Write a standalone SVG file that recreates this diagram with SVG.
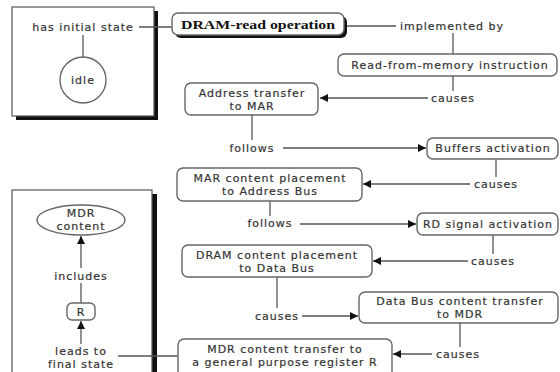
<svg xmlns="http://www.w3.org/2000/svg" width="560" height="372" viewBox="0 0 560 372">
  <defs>
    <marker id="arrow" viewBox="0 0 10 10" refX="10" refY="5" markerWidth="9" markerHeight="8" markerUnits="userSpaceOnUse" orient="auto">
      <path d="M0,0 L10,5 L0,10 Z" fill="#111"/>
    </marker>
    <style>
      text { font-family: "DejaVu Sans", Verdana, sans-serif; font-size: 11px; letter-spacing: 1px; fill: #333; stroke: #333; stroke-width: 0.2px; text-anchor: middle; }
      .title { font-family: "Liberation Serif", "Times New Roman", serif; font-weight: bold; font-size: 13px; letter-spacing: 0; fill: #111; stroke: none; }
      .box { fill: #fff; stroke: #666; stroke-width: 1.4; }
      .frame { fill: #fff; stroke: #555; stroke-width: 1.2; }
      .shadow { fill: #111; }
      .link { fill: none; stroke: #555; stroke-width: 1.3; }
      .arr { fill: none; stroke: #555; stroke-width: 1.3; marker-end: url(#arrow); }
    </style>
  </defs>

  <rect width="560" height="372" fill="#fff"/>

  <!-- framed panels -->
  <g id="frame-initial">
    <rect class="shadow" x="16" y="11" width="142" height="109"/>
    <rect class="frame" x="12" y="7" width="142" height="109"/>
  </g>
  <g id="frame-final">
    <rect class="shadow" x="16" y="194" width="141" height="190"/>
    <rect class="frame" x="12" y="190" width="140" height="190"/>
  </g>

  <!-- connectors -->
  <g id="connectors">
    <line class="link" x1="139" y1="27" x2="172" y2="27"/>
    <line class="link" x1="83" y1="35" x2="83" y2="57"/>
    <line class="link" x1="345" y1="26" x2="396" y2="26"/>
    <line class="link" x1="453" y1="33" x2="453" y2="54"/>
    <line class="link" x1="453" y1="76" x2="453" y2="91"/>
    <line class="arr" x1="428" y1="98" x2="320" y2="98"/>
    <line class="link" x1="252" y1="115" x2="252" y2="140"/>
    <line class="arr" x1="283" y1="148" x2="426" y2="148"/>
    <line class="link" x1="496" y1="159" x2="496" y2="177"/>
    <line class="arr" x1="470" y1="184" x2="363" y2="184"/>
    <line class="link" x1="270" y1="201" x2="270" y2="216"/>
    <line class="arr" x1="300" y1="224" x2="416" y2="224"/>
    <line class="link" x1="493" y1="235" x2="493" y2="254"/>
    <line class="arr" x1="468" y1="261" x2="373" y2="261"/>
    <line class="link" x1="277" y1="277" x2="277" y2="308"/>
    <line class="arr" x1="302" y1="316" x2="358" y2="316"/>
    <line class="link" x1="460" y1="323" x2="460" y2="347"/>
    <line class="arr" x1="432" y1="354" x2="393" y2="354"/>
    <line class="link" x1="118" y1="356" x2="178" y2="356"/>
    <line class="arr" x1="81" y1="268" x2="81" y2="236"/>
    <line class="link" x1="81" y1="283" x2="81" y2="303"/>
    <line class="arr" x1="81" y1="344" x2="81" y2="321"/>
  </g>

  <!-- link labels -->
  <g id="labels">
    <text x="83" y="31">has initial state</text>
    <text x="452" y="30">implemented by</text>
    <text x="453" y="102">causes</text>
    <text x="252" y="152">follows</text>
    <text x="496" y="188">causes</text>
    <text x="270" y="227">follows</text>
    <text x="493" y="265">causes</text>
    <text x="277" y="320">causes</text>
    <text x="458" y="358">causes</text>
    <text x="81" y="280">includes</text>
    <text x="81" y="355">leads to</text>
    <text x="81" y="368">final state</text>
  </g>

  <!-- nodes -->
  <g id="node-dram-read">
    <rect class="shadow" x="175" y="16" width="172" height="22" rx="6"/>
    <rect class="box" x="172" y="13" width="172" height="22" rx="6" stroke="#444"/>
    <text class="title" x="258" y="29" textLength="154" lengthAdjust="spacingAndGlyphs">DRAM-read operation</text>
  </g>
  <g id="node-idle">
    <circle class="box" cx="83" cy="80" r="23"/>
    <text x="83" y="84">idle</text>
  </g>
  <g id="node-read-instruction">
    <rect class="box" x="338" y="54" width="219" height="22" rx="6"/>
    <text x="450" y="69">Read-from-memory instruction</text>
  </g>
  <g id="node-address-transfer">
    <rect class="box" x="185" y="83" width="133" height="32" rx="6"/>
    <text x="252" y="97">Address transfer</text>
    <text x="252" y="110">to MAR</text>
  </g>
  <g id="node-buffers">
    <rect class="box" x="427" y="138" width="131" height="21" rx="6"/>
    <text x="493" y="152">Buffers activation</text>
  </g>
  <g id="node-mar-placement">
    <rect class="box" x="177" y="168" width="185" height="33" rx="6"/>
    <text x="270" y="182">MAR content placement</text>
    <text x="270" y="195">to Address Bus</text>
  </g>
  <g id="node-rd-signal">
    <rect class="box" x="417" y="213" width="141" height="22" rx="6"/>
    <text x="488" y="228">RD signal activation</text>
  </g>
  <g id="node-dram-placement">
    <rect class="box" x="182" y="245" width="190" height="32" rx="6"/>
    <text x="277" y="259">DRAM content placement</text>
    <text x="277" y="272">to Data Bus</text>
  </g>
  <g id="node-databus-transfer">
    <rect class="box" x="359" y="292" width="199" height="31" rx="6"/>
    <text x="460" y="305">Data Bus content transfer</text>
    <text x="460" y="318">to MDR</text>
  </g>
  <g id="node-mdr-transfer">
    <rect class="box" x="178" y="339" width="214" height="40" rx="6"/>
    <text x="285" y="353">MDR content transfer to</text>
    <text x="285" y="366">a general purpose register R</text>
  </g>
  <g id="node-mdr-content">
    <ellipse class="box" cx="81" cy="220" rx="44" ry="15"/>
    <text x="81" y="217">MDR</text>
    <text x="81" y="230">content</text>
  </g>
  <g id="node-r">
    <rect class="box" x="67" y="303" width="28" height="17" rx="5"/>
    <text x="81" y="316">R</text>
  </g>
</svg>
